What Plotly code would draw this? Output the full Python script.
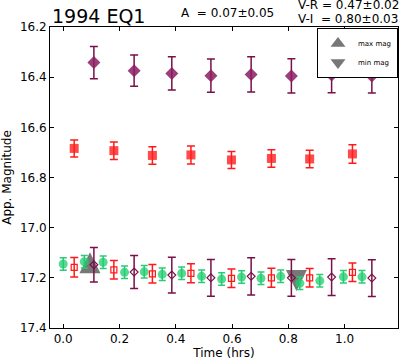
import plotly.graph_objects as go

# ---- data ----
t_I = [0.109, 0.252, 0.386, 0.525, 0.668, 0.811, 0.954, 1.097]
mag_I = [16.342, 16.374, 16.385, 16.394, 16.389, 16.395, 16.391, 16.395]
err_I = [0.064, 0.062, 0.066, 0.066, 0.070, 0.068, 0.071, 0.068]
mag_I_shift = [17.148, 17.177, 17.189, 17.200, 17.194, 17.200, 17.197, 17.201]
err_I_shift = [0.069, 0.066, 0.071, 0.073, 0.074, 0.073, 0.073, 0.073]

t_R = [0.039, 0.180, 0.317, 0.454, 0.598, 0.740, 0.876, 1.028]
mag_R = [16.684, 16.693, 16.712, 16.710, 16.730, 16.724, 16.726, 16.706]
err_R = [0.034, 0.035, 0.035, 0.036, 0.034, 0.035, 0.035, 0.037]
mag_R_shift = [17.158, 17.168, 17.184, 17.182, 17.202, 17.200, 17.200, 17.178]
err_R_shift = [0.039, 0.037, 0.037, 0.038, 0.037, 0.038, 0.037, 0.037]

t_V = [0.0, 0.075, 0.142, 0.218, 0.288, 0.352, 0.421, 0.492,
       0.563, 0.634, 0.703, 0.773, 0.841, 0.912, 0.996, 1.062]
mag_V = [17.145, 17.136, 17.138, 17.178, 17.176, 17.186, 17.182, 17.194,
         17.205, 17.197, 17.202, 17.194, 17.222, 17.212, 17.196, 17.196]
err_V = [0.025] * 16

t_max, mag_max = [0.095], [17.14]
t_min, mag_min = [0.829], [17.211]

x_ticks = [0.0, 0.2, 0.4, 0.6, 0.8, 1.0]
y_ticks = [16.2, 16.4, 16.6, 16.8, 17.0, 17.2, 17.4]

title_text = "1994 EQ1"
amp_text = "A\u00a0 = 0.07±0.05"
vr_text = "V-R = 0.47±0.02"
vi_text = "V-I\u00a0 = 0.80±0.03"

PURPLE = "rgba(139,28,98,0.85)"
PURPLE_E = "#7a1048"
RED = "rgba(255,30,30,0.8)"
RED_E = "#ff1a1a"
GREEN = "rgba(30,205,110,0.75)"
GREEN_E = "#2acb78"
GREY = "rgba(95,95,95,0.85)"
FONT = "DejaVu Sans"

fig = go.Figure()

tri = 21
# extreme markers (isosceles triangles centred on the point)
fig.add_trace(go.Scatter(x=t_max, y=mag_max, mode="markers", name="max mag",
                         legendgroup="max", showlegend=False,
                         marker=dict(symbol="arrow-down", angle=180, standoff=tri / 2,
                                     size=tri, color=GREY)))
fig.add_trace(go.Scatter(x=t_min, y=mag_min, mode="markers", name="min mag",
                         legendgroup="min", showlegend=False,
                         marker=dict(symbol="arrow-down", angle=0, standoff=tri / 2,
                                     size=tri, color=GREY)))
# legend entries for them
fig.add_trace(go.Scatter(x=[None], y=[None], mode="markers", name="max mag",
                         legendgroup="max",
                         marker=dict(symbol="triangle-up", size=13, color=GREY)))
fig.add_trace(go.Scatter(x=[None], y=[None], mode="markers", name="min mag",
                         legendgroup="min",
                         marker=dict(symbol="triangle-down", size=13, color=GREY)))

def eb(arr, color, width):
    return dict(type="data", array=arr, visible=True, color=color, thickness=1.5, width=width)

fig.add_trace(go.Scatter(x=t_I, y=mag_I, mode="markers", showlegend=False,
                         marker=dict(symbol="diamond", size=10, color=PURPLE),
                         error_y=eb(err_I, PURPLE_E, 4)))
fig.add_trace(go.Scatter(x=t_R, y=mag_R, mode="markers", showlegend=False,
                         marker=dict(symbol="square", size=9, color=RED),
                         error_y=eb(err_R, RED_E, 4)))
fig.add_trace(go.Scatter(x=t_V, y=mag_V, mode="markers", showlegend=False,
                         marker=dict(symbol="circle", size=9, color=GREEN),
                         error_y=eb(err_V, GREEN_E, 3.5)))
fig.add_trace(go.Scatter(x=t_R, y=mag_R_shift, mode="markers", showlegend=False,
                         marker=dict(symbol="square-open", size=6, color=RED_E,
                                     line=dict(width=1.2)),
                         error_y=eb(err_R_shift, RED_E, 4)))
fig.add_trace(go.Scatter(x=t_I, y=mag_I_shift, mode="markers", showlegend=False,
                         marker=dict(symbol="diamond-open", size=6, color=PURPLE_E,
                                     line=dict(width=1.2)),
                         error_y=eb(err_I_shift, PURPLE_E, 4)))

axis_common = dict(showline=True, linecolor="black", linewidth=1, mirror="ticks",
                   ticks="inside", ticklen=4, tickcolor="black", showgrid=False,
                   zeroline=False, tickfont=dict(family=FONT, size=12, color="black"))

fig.update_layout(
    width=401, height=362,
    margin=dict(l=50, r=3, t=27, b=34),
    paper_bgcolor="white", plot_bgcolor="white",
    font=dict(family=FONT, size=12, color="black"),
    xaxis=dict(range=[-0.047, 1.19], tickvals=x_ticks, tickformat=".1f",
               title=dict(text="Time (hrs)", standoff=2, font=dict(size=12)),
               **axis_common),
    yaxis=dict(range=[17.4, 16.2], tickvals=y_ticks, tickformat=".1f",
               title=dict(text="App. Magnitude", standoff=6, font=dict(size=12)),
               **axis_common),
    legend=dict(x=1, y=0.997, xanchor="right", yanchor="top",
                bordercolor="black", borderwidth=1, bgcolor="white",
                font=dict(family=FONT, size=7), itemwidth=30,
                tracegroupgap=0),
    annotations=[
        dict(text=title_text, xref="paper", yref="paper", x=0, y=1,
             xanchor="left", yanchor="middle", yshift=11, showarrow=False,
             font=dict(family=FONT, size=19, color="black")),
        dict(text=amp_text, xref="paper", yref="paper", x=0.511, y=1,
             xanchor="center", yanchor="middle", yshift=14, showarrow=False,
             font=dict(family=FONT, size=12, color="black")),
        dict(text=vr_text, xref="paper", yref="paper", x=0.707, y=1,
             xanchor="left", yanchor="middle", yshift=22, showarrow=False,
             font=dict(family=FONT, size=12, color="black")),
        dict(text=vi_text, xref="paper", yref="paper", x=0.707, y=1,
             xanchor="left", yanchor="middle", yshift=8, showarrow=False,
             font=dict(family=FONT, size=12, color="black")),
    ],
)

fig.write_html("out.html", config={"displayModeBar": False},
               post_script="document.body.style.margin='0';document.body.style.overflow='hidden';")
